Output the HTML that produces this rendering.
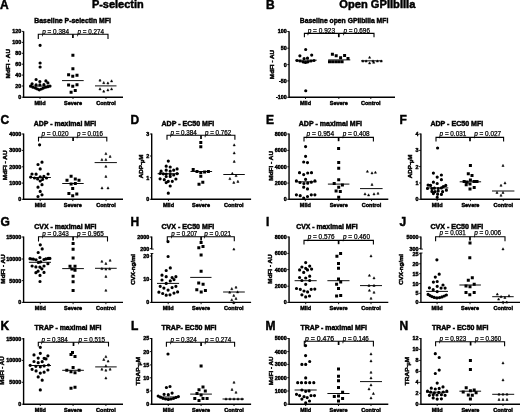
<!DOCTYPE html>
<html><head><meta charset="utf-8"><style>
html,body{margin:0;padding:0;background:#fff;width:520px;height:412px;overflow:hidden}
svg{display:block;filter:blur(0.3px)}
text{font-family:"Liberation Sans", sans-serif;fill:#000}
.b{stroke:#000;stroke-width:0.45px}
.p{stroke:#000;stroke-width:0.25px}
</style></head><body>
<svg width="520" height="412" viewBox="0 0 520 412">
<text x="0" y="8.5" font-size="12" font-weight="bold" class="b">A</text>
<text x="91.9" y="8.1" font-size="10.8" font-weight="bold" class="b" textLength="51.85" lengthAdjust="spacingAndGlyphs">P-selectin</text>
<text x="34.3" y="23.2" font-size="6.9" font-weight="bold" class="b" textLength="76.7" lengthAdjust="spacingAndGlyphs">Baseline P-selectin MFI</text>
<path d="M23.6 31.2V97.2H123" fill="none" stroke="#000" stroke-width="1.4"/>
<path d="M21.8 31.4H23.6M21.8 42.4H23.6M21.8 53.3H23.6M21.8 64.2H23.6M21.8 75.1H23.6M21.8 86H23.6M21.8 97.2H23.6" stroke="#000" stroke-width="0.9"/>
<text x="21.25" y="33.35" font-size="5.4" font-weight="bold" class="b" text-anchor="end">120</text>
<text x="21.25" y="44.35" font-size="5.4" font-weight="bold" class="b" text-anchor="end">100</text>
<text x="21.25" y="55.25" font-size="5.4" font-weight="bold" class="b" text-anchor="end">80</text>
<text x="21.25" y="66.15" font-size="5.4" font-weight="bold" class="b" text-anchor="end">60</text>
<text x="21.25" y="77.05" font-size="5.4" font-weight="bold" class="b" text-anchor="end">40</text>
<text x="21.25" y="87.95" font-size="5.4" font-weight="bold" class="b" text-anchor="end">20</text>
<text x="21.25" y="99.15" font-size="5.4" font-weight="bold" class="b" text-anchor="end">0</text>
<path d="M40 97.2V99M73 97.2V99M106 97.2V99" stroke="#000" stroke-width="0.9"/>
<text x="40" y="104.9" font-size="5.5" font-weight="bold" class="b" text-anchor="middle">Mild</text>
<text x="73" y="104.9" font-size="5.5" font-weight="bold" class="b" text-anchor="middle">Severe</text>
<text x="106" y="104.9" font-size="5.5" font-weight="bold" class="b" text-anchor="middle">Control</text>
<text transform="translate(9.65 63.7) rotate(-90)" font-size="6.0" font-weight="bold" class="b" text-anchor="middle" textLength="29.4" lengthAdjust="spacingAndGlyphs">MdFI - AU</text>
<path d="M38.3 38.9V34.2H108V38.9" fill="none" stroke="#000" stroke-width="1.1"/>
<path d="M72.9 34.2V38" stroke="#000" stroke-width="1.7"/>
<text class="p" x="42.3" y="33.5" font-size="6.6" textLength="26.8" lengthAdjust="spacingAndGlyphs"><tspan font-style="italic">p</tspan> = 0.384</text>
<text class="p" x="77.6" y="33.5" font-size="6.6" textLength="26.4" lengthAdjust="spacingAndGlyphs"><tspan font-style="italic">p</tspan> = 0.274</text>
<path d="M29.2 86.1H50.8M62 80.6H83.7M95 85.9H116.5" stroke="#000" stroke-width="0.95"/>
<path d="M38.5 45.3a1.6 1.6 0 1 0 3.2 0a1.6 1.6 0 1 0 -3.2 0M38.5 63a1.6 1.6 0 1 0 3.2 0a1.6 1.6 0 1 0 -3.2 0M38.5 67a1.6 1.6 0 1 0 3.2 0a1.6 1.6 0 1 0 -3.2 0M34.5 79.5a1.6 1.6 0 1 0 3.2 0a1.6 1.6 0 1 0 -3.2 0M38.25 81.5a1.6 1.6 0 1 0 3.2 0a1.6 1.6 0 1 0 -3.2 0M44.3 80.9a1.6 1.6 0 1 0 3.2 0a1.6 1.6 0 1 0 -3.2 0M46.3 82.9a1.6 1.6 0 1 0 3.2 0a1.6 1.6 0 1 0 -3.2 0M30.5 83.8a1.6 1.6 0 1 0 3.2 0a1.6 1.6 0 1 0 -3.2 0M34.5 84.9a1.6 1.6 0 1 0 3.2 0a1.6 1.6 0 1 0 -3.2 0M38.25 84.9a1.6 1.6 0 1 0 3.2 0a1.6 1.6 0 1 0 -3.2 0M42.3 84.7a1.6 1.6 0 1 0 3.2 0a1.6 1.6 0 1 0 -3.2 0M29 86.2a1.6 1.6 0 1 0 3.2 0a1.6 1.6 0 1 0 -3.2 0M31.3 87.25a1.6 1.6 0 1 0 3.2 0a1.6 1.6 0 1 0 -3.2 0M33.9 88.1a1.6 1.6 0 1 0 3.2 0a1.6 1.6 0 1 0 -3.2 0M35.9 89a1.6 1.6 0 1 0 3.2 0a1.6 1.6 0 1 0 -3.2 0M37.7 89.8a1.6 1.6 0 1 0 3.2 0a1.6 1.6 0 1 0 -3.2 0M39.7 89a1.6 1.6 0 1 0 3.2 0a1.6 1.6 0 1 0 -3.2 0M41.7 88.1a1.6 1.6 0 1 0 3.2 0a1.6 1.6 0 1 0 -3.2 0M44 87.25a1.6 1.6 0 1 0 3.2 0a1.6 1.6 0 1 0 -3.2 0M46.3 86.7a1.6 1.6 0 1 0 3.2 0a1.6 1.6 0 1 0 -3.2 0M48.4 86.1a1.6 1.6 0 1 0 3.2 0a1.6 1.6 0 1 0 -3.2 0"/>
<path d="M71.4 53.7h3.0v3.0h-3.0zM71.4 67.3h3.0v3.0h-3.0zM67.1 73.25h3.0v3.0h-3.0zM71.25 74.75h3.0v3.0h-3.0zM75.5 73.75h3.0v3.0h-3.0zM67.1 83.5h3.0v3.0h-3.0zM71.25 84.75h3.0v3.0h-3.0zM75.5 83.25h3.0v3.0h-3.0zM69.6 90.75h3.0v3.0h-3.0zM73.75 89.1h3.0v3.0h-3.0z"/>
<path d="M100 79L101.1 81.15H98.9zM103.75 81.5L104.85 83.65H102.65zM107.9 81.85L109 84H106.8zM111.6 79.75L112.7 81.9H110.5zM100 87.75L101.1 89.9H98.9zM103.75 90L104.85 92.15H102.65zM107.9 88.75L109 90.9H106.8zM111.6 87.75L112.7 89.9H110.5z" stroke="#000" stroke-width="0.5" stroke-linejoin="round"/>
<text x="266" y="8.6" font-size="12" font-weight="bold" class="b">B</text>
<text x="339.3" y="7.9" font-size="10.8" font-weight="bold" class="b" textLength="76.1" lengthAdjust="spacingAndGlyphs">Open GPIIbIIIa</text>
<text x="299.8" y="23.3" font-size="6.9" font-weight="bold" class="b" textLength="88.5" lengthAdjust="spacingAndGlyphs">Baseline open GPIIbIIIa MFI</text>
<path d="M289.05 31.2V97.2H395" fill="none" stroke="#000" stroke-width="1.4"/>
<path d="M287.25 31.5H289.05M287.25 48.2H289.05M287.25 64.6H289.05M287.25 80.9H289.05M287.25 97.3H289.05" stroke="#000" stroke-width="0.9"/>
<text x="286.7" y="33.45" font-size="5.4" font-weight="bold" class="b" text-anchor="end">100</text>
<text x="286.7" y="50.15" font-size="5.4" font-weight="bold" class="b" text-anchor="end">50</text>
<text x="286.7" y="66.55" font-size="5.4" font-weight="bold" class="b" text-anchor="end">0</text>
<text x="286.7" y="82.85" font-size="5.4" font-weight="bold" class="b" text-anchor="end">-50</text>
<text x="286.7" y="99.25" font-size="5.4" font-weight="bold" class="b" text-anchor="end">-100</text>
<path d="M305.5 97.2V99M338.8 97.2V99M370.8 97.2V99" stroke="#000" stroke-width="0.9"/>
<text x="305.5" y="104.9" font-size="5.5" font-weight="bold" class="b" text-anchor="middle">Mild</text>
<text x="338.8" y="104.9" font-size="5.5" font-weight="bold" class="b" text-anchor="middle">Severe</text>
<text x="370.8" y="104.9" font-size="5.5" font-weight="bold" class="b" text-anchor="middle">Control</text>
<text transform="translate(273.85 64.5) rotate(-90)" font-size="6.0" font-weight="bold" class="b" text-anchor="middle" textLength="29.3" lengthAdjust="spacingAndGlyphs">MdFI - AU</text>
<path d="M304.4 37.3V33.4H374V37.3" fill="none" stroke="#000" stroke-width="1.1"/>
<path d="M338.8 33.4V37.2" stroke="#000" stroke-width="1.7"/>
<text class="p" x="307.7" y="33.1" font-size="6.6" textLength="27.3" lengthAdjust="spacingAndGlyphs"><tspan font-style="italic">p</tspan> = 0.923</text>
<text class="p" x="343.4" y="33.1" font-size="6.6" textLength="26.5" lengthAdjust="spacingAndGlyphs"><tspan font-style="italic">p</tspan> = 0.696</text>
<path d="M295.3 60.2H316.7M328.2 59.9H350.3M361 60.8H382.5" stroke="#000" stroke-width="0.95"/>
<path d="M304.1 49.5a1.6 1.6 0 1 0 3.2 0a1.6 1.6 0 1 0 -3.2 0M298.3 55.8a1.6 1.6 0 1 0 3.2 0a1.6 1.6 0 1 0 -3.2 0M310.1 55.1a1.6 1.6 0 1 0 3.2 0a1.6 1.6 0 1 0 -3.2 0M302.5 58.6a1.6 1.6 0 1 0 3.2 0a1.6 1.6 0 1 0 -3.2 0M305.9 58.2a1.6 1.6 0 1 0 3.2 0a1.6 1.6 0 1 0 -3.2 0M295.4 60.5a1.6 1.6 0 1 0 3.2 0a1.6 1.6 0 1 0 -3.2 0M298.4 61a1.6 1.6 0 1 0 3.2 0a1.6 1.6 0 1 0 -3.2 0M301.4 61.8a1.6 1.6 0 1 0 3.2 0a1.6 1.6 0 1 0 -3.2 0M303.9 62.4a1.6 1.6 0 1 0 3.2 0a1.6 1.6 0 1 0 -3.2 0M306.4 61.8a1.6 1.6 0 1 0 3.2 0a1.6 1.6 0 1 0 -3.2 0M309.4 61a1.6 1.6 0 1 0 3.2 0a1.6 1.6 0 1 0 -3.2 0M312.4 60.5a1.6 1.6 0 1 0 3.2 0a1.6 1.6 0 1 0 -3.2 0M304.15 90.75a1.6 1.6 0 1 0 3.2 0a1.6 1.6 0 1 0 -3.2 0"/>
<path d="M330.9 52.7h3.0v3.0h-3.0zM334.7 54.3h3.0v3.0h-3.0zM343.1 54h3.0v3.0h-3.0zM339.1 56.2h3.0v3.0h-3.0zM346.5 57.1h3.0v3.0h-3.0zM328 60.3h3.0v3.0h-3.0zM331.1 60.3h3.0v3.0h-3.0zM334.3 60.3h3.0v3.0h-3.0zM337.4 60.3h3.0v3.0h-3.0zM340.6 60.3h3.0v3.0h-3.0z"/>
<path d="M369.6 56.15L370.7 58.3H368.5zM362.9 59.85L364 62H361.8zM366.1 59.85L367.2 62H365zM373 59.85L374.1 62H371.9zM377.4 59.85L378.5 62H376.3zM381.2 59.85L382.3 62H380.1zM369.6 61.75L370.7 63.9H368.5zM373.7 61.15L374.8 63.3H372.6z" stroke="#000" stroke-width="0.5" stroke-linejoin="round"/>
<text x="0.6" y="123.8" font-size="12" font-weight="bold" class="b">C</text>
<text x="33.8" y="125.5" font-size="6.9" font-weight="bold" class="b" textLength="62.4" lengthAdjust="spacingAndGlyphs">ADP - maximal MFI</text>
<path d="M23.6 133.5V199.3H123" fill="none" stroke="#000" stroke-width="1.4"/>
<path d="M21.8 134H23.6M21.8 150.4H23.6M21.8 166.8H23.6M21.8 183.1H23.6M21.8 199.3H23.6" stroke="#000" stroke-width="0.9"/>
<text x="21.25" y="135.95" font-size="5.4" font-weight="bold" class="b" text-anchor="end">4000</text>
<text x="21.25" y="152.35" font-size="5.4" font-weight="bold" class="b" text-anchor="end">3000</text>
<text x="21.25" y="168.75" font-size="5.4" font-weight="bold" class="b" text-anchor="end">2000</text>
<text x="21.25" y="185.05" font-size="5.4" font-weight="bold" class="b" text-anchor="end">1000</text>
<text x="21.25" y="201.25" font-size="5.4" font-weight="bold" class="b" text-anchor="end">0</text>
<path d="M40.2 199.3V201.1M72.8 199.3V201.1M106 199.3V201.1" stroke="#000" stroke-width="0.9"/>
<text x="40.2" y="207" font-size="5.5" font-weight="bold" class="b" text-anchor="middle">Mild</text>
<text x="72.8" y="207" font-size="5.5" font-weight="bold" class="b" text-anchor="middle">Severe</text>
<text x="106" y="207" font-size="5.5" font-weight="bold" class="b" text-anchor="middle">Control</text>
<text transform="translate(6.95 165.3) rotate(-90)" font-size="6.0" font-weight="bold" class="b" text-anchor="middle" textLength="29.9" lengthAdjust="spacingAndGlyphs">MdFI - AU</text>
<path d="M38.5 141.6V137.3H106.8V141.6" fill="none" stroke="#000" stroke-width="1.1"/>
<path d="M73.1 137.3V141.1" stroke="#000" stroke-width="1.7"/>
<text class="p" x="41.5" y="136.3" font-size="6.6" textLength="27" lengthAdjust="spacingAndGlyphs"><tspan font-style="italic">p</tspan> = 0.020</text>
<text class="p" x="77" y="136.3" font-size="6.6" textLength="26" lengthAdjust="spacingAndGlyphs"><tspan font-style="italic">p</tspan> = 0.016</text>
<path d="M29.4 177.5H50.9M62.2 183.5H83.7M94.6 162.6H116.9" stroke="#000" stroke-width="0.95"/>
<path d="M38 144.8a1.6 1.6 0 1 0 3.2 0a1.6 1.6 0 1 0 -3.2 0M40.4 162.2a1.6 1.6 0 1 0 3.2 0a1.6 1.6 0 1 0 -3.2 0M36.4 164.5a1.6 1.6 0 1 0 3.2 0a1.6 1.6 0 1 0 -3.2 0M38.6 168.9a1.6 1.6 0 1 0 3.2 0a1.6 1.6 0 1 0 -3.2 0M30.4 174a1.6 1.6 0 1 0 3.2 0a1.6 1.6 0 1 0 -3.2 0M34.5 174.2a1.6 1.6 0 1 0 3.2 0a1.6 1.6 0 1 0 -3.2 0M46.5 174a1.6 1.6 0 1 0 3.2 0a1.6 1.6 0 1 0 -3.2 0M38.6 176.8a1.6 1.6 0 1 0 3.2 0a1.6 1.6 0 1 0 -3.2 0M42.3 176.3a1.6 1.6 0 1 0 3.2 0a1.6 1.6 0 1 0 -3.2 0M29.1 177.1a1.6 1.6 0 1 0 3.2 0a1.6 1.6 0 1 0 -3.2 0M36 179a1.6 1.6 0 1 0 3.2 0a1.6 1.6 0 1 0 -3.2 0M38.6 181a1.6 1.6 0 1 0 3.2 0a1.6 1.6 0 1 0 -3.2 0M41.1 179.3a1.6 1.6 0 1 0 3.2 0a1.6 1.6 0 1 0 -3.2 0M44.9 178a1.6 1.6 0 1 0 3.2 0a1.6 1.6 0 1 0 -3.2 0M32.9 178a1.6 1.6 0 1 0 3.2 0a1.6 1.6 0 1 0 -3.2 0M40.4 184.7a1.6 1.6 0 1 0 3.2 0a1.6 1.6 0 1 0 -3.2 0M36.4 187.2a1.6 1.6 0 1 0 3.2 0a1.6 1.6 0 1 0 -3.2 0M38.6 191.4a1.6 1.6 0 1 0 3.2 0a1.6 1.6 0 1 0 -3.2 0M40.4 194.8a1.6 1.6 0 1 0 3.2 0a1.6 1.6 0 1 0 -3.2 0M36.4 196.5a1.6 1.6 0 1 0 3.2 0a1.6 1.6 0 1 0 -3.2 0"/>
<path d="M69.6 174.8h3.0v3.0h-3.0zM65.5 178.8h3.0v3.0h-3.0zM73.8 177.5h3.0v3.0h-3.0zM77.5 178.8h3.0v3.0h-3.0zM69.6 182.6h3.0v3.0h-3.0zM73.8 182h3.0v3.0h-3.0zM71.2 187h3.0v3.0h-3.0zM67.4 192.1h3.0v3.0h-3.0zM75.3 192.4h3.0v3.0h-3.0zM71.2 194.2h3.0v3.0h-3.0z"/>
<path d="M105.9 152.45L107 154.6H104.8zM110.1 155.25L111.2 157.4H109zM101.9 158.45L103 160.6H100.8zM105.9 158.45L107 160.6H104.8zM105.9 165.15L107 167.3H104.8zM105.9 175.25L107 177.4H104.8zM102 186.75L103.1 188.9H100.9zM108 186.75L109.1 188.9H106.9z" stroke="#000" stroke-width="0.5" stroke-linejoin="round"/>
<text x="130.5" y="124.2" font-size="12" font-weight="bold" class="b">D</text>
<text x="161.5" y="125.5" font-size="6.9" font-weight="bold" class="b" textLength="52.7" lengthAdjust="spacingAndGlyphs">ADP - EC50 MFI</text>
<path d="M151.7 133.5V199.3H251.1" fill="none" stroke="#000" stroke-width="1.4"/>
<path d="M149.9 134H151.7M149.9 156H151.7M149.9 177.7H151.7M149.9 199.3H151.7" stroke="#000" stroke-width="0.9"/>
<text x="149.35" y="135.95" font-size="5.4" font-weight="bold" class="b" text-anchor="end">3</text>
<text x="149.35" y="157.95" font-size="5.4" font-weight="bold" class="b" text-anchor="end">2</text>
<text x="149.35" y="179.65" font-size="5.4" font-weight="bold" class="b" text-anchor="end">1</text>
<text x="149.35" y="201.25" font-size="5.4" font-weight="bold" class="b" text-anchor="end">0</text>
<path d="M168.5 199.3V201.1M201 199.3V201.1M233.8 199.3V201.1" stroke="#000" stroke-width="0.9"/>
<text x="168.5" y="207" font-size="5.5" font-weight="bold" class="b" text-anchor="middle">Mild</text>
<text x="201" y="207" font-size="5.5" font-weight="bold" class="b" text-anchor="middle">Severe</text>
<text x="233.8" y="207" font-size="5.5" font-weight="bold" class="b" text-anchor="middle">Control</text>
<text transform="translate(142.85 166.4) rotate(-90)" font-size="6.0" font-weight="bold" class="b" text-anchor="middle" textLength="23.5" lengthAdjust="spacingAndGlyphs">ADP-<tspan font-size="4.80" dy="1.1">μ</tspan><tspan dy="-1.1">M</tspan></text>
<path d="M167 139.7V135.2H234.9V139.7" fill="none" stroke="#000" stroke-width="1.1"/>
<path d="M201 135.2V139" stroke="#000" stroke-width="1.7"/>
<text class="p" x="170.4" y="134.7" font-size="6.6" textLength="26.4" lengthAdjust="spacingAndGlyphs"><tspan font-style="italic">p</tspan> = 0.384</text>
<text class="p" x="205" y="134.7" font-size="6.6" textLength="26.2" lengthAdjust="spacingAndGlyphs"><tspan font-style="italic">p</tspan> = 0.762</text>
<path d="M157.6 173.7H179M190.5 171.5H212.1M223.3 174.5H244.8" stroke="#000" stroke-width="0.95"/>
<path d="M166.7 161.1a1.6 1.6 0 1 0 3.2 0a1.6 1.6 0 1 0 -3.2 0M164.6 166.2a1.6 1.6 0 1 0 3.2 0a1.6 1.6 0 1 0 -3.2 0M168.6 167a1.6 1.6 0 1 0 3.2 0a1.6 1.6 0 1 0 -3.2 0M175.5 168.9a1.6 1.6 0 1 0 3.2 0a1.6 1.6 0 1 0 -3.2 0M159.5 171.2a1.6 1.6 0 1 0 3.2 0a1.6 1.6 0 1 0 -3.2 0M164.6 170.2a1.6 1.6 0 1 0 3.2 0a1.6 1.6 0 1 0 -3.2 0M168.6 171.2a1.6 1.6 0 1 0 3.2 0a1.6 1.6 0 1 0 -3.2 0M172.1 170.2a1.6 1.6 0 1 0 3.2 0a1.6 1.6 0 1 0 -3.2 0M158.5 173.5a1.6 1.6 0 1 0 3.2 0a1.6 1.6 0 1 0 -3.2 0M161.7 173.8a1.6 1.6 0 1 0 3.2 0a1.6 1.6 0 1 0 -3.2 0M164.6 174a1.6 1.6 0 1 0 3.2 0a1.6 1.6 0 1 0 -3.2 0M168.6 174.6a1.6 1.6 0 1 0 3.2 0a1.6 1.6 0 1 0 -3.2 0M172.1 175a1.6 1.6 0 1 0 3.2 0a1.6 1.6 0 1 0 -3.2 0M175.5 173.7a1.6 1.6 0 1 0 3.2 0a1.6 1.6 0 1 0 -3.2 0M164.6 176.5a1.6 1.6 0 1 0 3.2 0a1.6 1.6 0 1 0 -3.2 0M168.6 176.5a1.6 1.6 0 1 0 3.2 0a1.6 1.6 0 1 0 -3.2 0M158.5 178.8a1.6 1.6 0 1 0 3.2 0a1.6 1.6 0 1 0 -3.2 0M162.7 179.7a1.6 1.6 0 1 0 3.2 0a1.6 1.6 0 1 0 -3.2 0M174.3 179a1.6 1.6 0 1 0 3.2 0a1.6 1.6 0 1 0 -3.2 0M164.6 182.6a1.6 1.6 0 1 0 3.2 0a1.6 1.6 0 1 0 -3.2 0M166.7 181.3a1.6 1.6 0 1 0 3.2 0a1.6 1.6 0 1 0 -3.2 0M170.7 181.3a1.6 1.6 0 1 0 3.2 0a1.6 1.6 0 1 0 -3.2 0M168.6 186a1.6 1.6 0 1 0 3.2 0a1.6 1.6 0 1 0 -3.2 0M166.7 193.2a1.6 1.6 0 1 0 3.2 0a1.6 1.6 0 1 0 -3.2 0"/>
<path d="M199.3 140.9h3.0v3.0h-3.0zM199.3 145.3h3.0v3.0h-3.0zM191.7 167.9h3.0v3.0h-3.0zM195.5 170.1h3.0v3.0h-3.0zM199.3 170.9h3.0v3.0h-3.0zM203.1 170.4h3.0v3.0h-3.0zM206.9 170.1h3.0v3.0h-3.0zM199.3 174.8h3.0v3.0h-3.0zM201.3 180.7h3.0v3.0h-3.0zM197.5 182.8h3.0v3.0h-3.0z"/>
<path d="M234.2 143.75L235.3 145.9H233.1zM234.2 151.75L235.3 153.9H233.1zM234.2 160.25L235.3 162.4H233.1zM232.3 172.25L233.4 174.4H231.2zM236.1 174.45L237.2 176.6H235zM229.9 177.45L231 179.6H228.8zM233.8 181.25L234.9 183.4H232.7zM237.9 180.25L239 182.4H236.8z" stroke="#000" stroke-width="0.5" stroke-linejoin="round"/>
<text x="266" y="124.2" font-size="12" font-weight="bold" class="b">E</text>
<text x="298.8" y="125.5" font-size="6.9" font-weight="bold" class="b" textLength="63.1" lengthAdjust="spacingAndGlyphs">ADP - maximal MFI</text>
<path d="M289.05 133.5V199.3H388.3" fill="none" stroke="#000" stroke-width="1.4"/>
<path d="M287.25 134H289.05M287.25 150.4H289.05M287.25 166.8H289.05M287.25 183.1H289.05M287.25 199.3H289.05" stroke="#000" stroke-width="0.9"/>
<text x="286.7" y="135.95" font-size="5.4" font-weight="bold" class="b" text-anchor="end">8000</text>
<text x="286.7" y="152.35" font-size="5.4" font-weight="bold" class="b" text-anchor="end">6000</text>
<text x="286.7" y="168.75" font-size="5.4" font-weight="bold" class="b" text-anchor="end">4000</text>
<text x="286.7" y="185.05" font-size="5.4" font-weight="bold" class="b" text-anchor="end">2000</text>
<text x="286.7" y="201.25" font-size="5.4" font-weight="bold" class="b" text-anchor="end">0</text>
<path d="M305.3 199.3V201.1M338.7 199.3V201.1M371.5 199.3V201.1" stroke="#000" stroke-width="0.9"/>
<text x="305.3" y="207" font-size="5.5" font-weight="bold" class="b" text-anchor="middle">Mild</text>
<text x="338.7" y="207" font-size="5.5" font-weight="bold" class="b" text-anchor="middle">Severe</text>
<text x="371.5" y="207" font-size="5.5" font-weight="bold" class="b" text-anchor="middle">Control</text>
<text transform="translate(272.55 165.8) rotate(-90)" font-size="6.0" font-weight="bold" class="b" text-anchor="middle" textLength="29.8" lengthAdjust="spacingAndGlyphs">MdFI - AU</text>
<path d="M304 141.5V137.4H373.4V141.5" fill="none" stroke="#000" stroke-width="1.1"/>
<path d="M338.6 137.4V141.2" stroke="#000" stroke-width="1.7"/>
<text class="p" x="306.5" y="136.3" font-size="6.6" textLength="27.7" lengthAdjust="spacingAndGlyphs"><tspan font-style="italic">p</tspan> = 0.954</text>
<text class="p" x="342.7" y="136.3" font-size="6.6" textLength="26.9" lengthAdjust="spacingAndGlyphs"><tspan font-style="italic">p</tspan> = 0.408</text>
<path d="M295.1 181.8H316.6M327.9 184.1H349.4M360 188.6H382.6" stroke="#000" stroke-width="0.95"/>
<path d="M304 146.6a1.6 1.6 0 1 0 3.2 0a1.6 1.6 0 1 0 -3.2 0M304 156.3a1.6 1.6 0 1 0 3.2 0a1.6 1.6 0 1 0 -3.2 0M302.1 162a1.6 1.6 0 1 0 3.2 0a1.6 1.6 0 1 0 -3.2 0M305.9 162.6a1.6 1.6 0 1 0 3.2 0a1.6 1.6 0 1 0 -3.2 0M297.9 172.7a1.6 1.6 0 1 0 3.2 0a1.6 1.6 0 1 0 -3.2 0M302.1 174.6a1.6 1.6 0 1 0 3.2 0a1.6 1.6 0 1 0 -3.2 0M306.1 173a1.6 1.6 0 1 0 3.2 0a1.6 1.6 0 1 0 -3.2 0M309.9 172.7a1.6 1.6 0 1 0 3.2 0a1.6 1.6 0 1 0 -3.2 0M304 179.3a1.6 1.6 0 1 0 3.2 0a1.6 1.6 0 1 0 -3.2 0M294.8 180.9a1.6 1.6 0 1 0 3.2 0a1.6 1.6 0 1 0 -3.2 0M298.4 182.5a1.6 1.6 0 1 0 3.2 0a1.6 1.6 0 1 0 -3.2 0M302.3 183.5a1.6 1.6 0 1 0 3.2 0a1.6 1.6 0 1 0 -3.2 0M306.1 183.2a1.6 1.6 0 1 0 3.2 0a1.6 1.6 0 1 0 -3.2 0M309.7 182.2a1.6 1.6 0 1 0 3.2 0a1.6 1.6 0 1 0 -3.2 0M313.3 180.9a1.6 1.6 0 1 0 3.2 0a1.6 1.6 0 1 0 -3.2 0M302.1 187.2a1.6 1.6 0 1 0 3.2 0a1.6 1.6 0 1 0 -3.2 0M305.9 188.9a1.6 1.6 0 1 0 3.2 0a1.6 1.6 0 1 0 -3.2 0M294.8 194.8a1.6 1.6 0 1 0 3.2 0a1.6 1.6 0 1 0 -3.2 0M298.6 195.7a1.6 1.6 0 1 0 3.2 0a1.6 1.6 0 1 0 -3.2 0M305.9 196.5a1.6 1.6 0 1 0 3.2 0a1.6 1.6 0 1 0 -3.2 0M309.7 194.8a1.6 1.6 0 1 0 3.2 0a1.6 1.6 0 1 0 -3.2 0M313.3 194.8a1.6 1.6 0 1 0 3.2 0a1.6 1.6 0 1 0 -3.2 0M302.1 198a1.6 1.6 0 1 0 3.2 0a1.6 1.6 0 1 0 -3.2 0"/>
<path d="M337.1 147.1h3.0v3.0h-3.0zM337.2 160.9h3.0v3.0h-3.0zM337.2 166.8h3.0v3.0h-3.0zM337.2 178.2h3.0v3.0h-3.0zM332.7 182h3.0v3.0h-3.0zM340.9 183.6h3.0v3.0h-3.0zM337.2 185.7h3.0v3.0h-3.0zM334.6 189.5h3.0v3.0h-3.0zM338.8 189.9h3.0v3.0h-3.0zM337.2 195.8h3.0v3.0h-3.0z"/>
<path d="M367.4 170.15L368.5 172.3H366.3zM372 171.75L373.1 173.9H370.9zM375.4 171.15L376.5 173.3H374.3zM372 183.35L373.1 185.5H370.9zM365 192.75L366.1 194.9H363.9zM368.6 193.75L369.7 195.9H367.5zM374 192.75L375.1 194.9H372.9zM378 192.15L379.1 194.3H376.9z" stroke="#000" stroke-width="0.5" stroke-linejoin="round"/>
<text x="399.5" y="124.2" font-size="12" font-weight="bold" class="b">F</text>
<text x="430.4" y="125.5" font-size="6.9" font-weight="bold" class="b" textLength="52.8" lengthAdjust="spacingAndGlyphs">ADP - EC50 MFI</text>
<path d="M420.9 133.5V199.3H520" fill="none" stroke="#000" stroke-width="1.4"/>
<path d="M419.1 134H420.9M419.1 150.4H420.9M419.1 166.6H420.9M419.1 183H420.9M419.1 199.3H420.9" stroke="#000" stroke-width="0.9"/>
<text x="418.55" y="135.95" font-size="5.4" font-weight="bold" class="b" text-anchor="end">4</text>
<text x="418.55" y="152.35" font-size="5.4" font-weight="bold" class="b" text-anchor="end">3</text>
<text x="418.55" y="168.55" font-size="5.4" font-weight="bold" class="b" text-anchor="end">2</text>
<text x="418.55" y="184.95" font-size="5.4" font-weight="bold" class="b" text-anchor="end">1</text>
<text x="418.55" y="201.25" font-size="5.4" font-weight="bold" class="b" text-anchor="end">0</text>
<path d="M437.2 199.3V201.1M470.4 199.3V201.1M503.3 199.3V201.1" stroke="#000" stroke-width="0.9"/>
<text x="437.2" y="207" font-size="5.5" font-weight="bold" class="b" text-anchor="middle">Mild</text>
<text x="470.4" y="207" font-size="5.5" font-weight="bold" class="b" text-anchor="middle">Severe</text>
<text x="503.3" y="207" font-size="5.5" font-weight="bold" class="b" text-anchor="middle">Control</text>
<text transform="translate(412.35 166.4) rotate(-90)" font-size="6.0" font-weight="bold" class="b" text-anchor="middle" textLength="23.5" lengthAdjust="spacingAndGlyphs">ADP-<tspan font-size="4.80" dy="1.1">μ</tspan><tspan dy="-1.1">M</tspan></text>
<path d="M436 141.5V137.4H503.6V141.5" fill="none" stroke="#000" stroke-width="1.1"/>
<path d="M470 137.4V141.2" stroke="#000" stroke-width="1.7"/>
<text class="p" x="439.6" y="136.3" font-size="6.6" textLength="26.6" lengthAdjust="spacingAndGlyphs"><tspan font-style="italic">p</tspan> = 0.031</text>
<text class="p" x="474.2" y="136.3" font-size="6.6" textLength="27" lengthAdjust="spacingAndGlyphs"><tspan font-style="italic">p</tspan> = 0.027</text>
<path d="M426.2 187.9H448.3M459.7 181.8H481.1M492 191H514.4" stroke="#000" stroke-width="0.95"/>
<path d="M436 148a1.6 1.6 0 1 0 3.2 0a1.6 1.6 0 1 0 -3.2 0M431.8 173.1a1.6 1.6 0 1 0 3.2 0a1.6 1.6 0 1 0 -3.2 0M435.6 177.1a1.6 1.6 0 1 0 3.2 0a1.6 1.6 0 1 0 -3.2 0M439.8 175a1.6 1.6 0 1 0 3.2 0a1.6 1.6 0 1 0 -3.2 0M439.8 179.7a1.6 1.6 0 1 0 3.2 0a1.6 1.6 0 1 0 -3.2 0M431.8 182.2a1.6 1.6 0 1 0 3.2 0a1.6 1.6 0 1 0 -3.2 0M435.6 183.5a1.6 1.6 0 1 0 3.2 0a1.6 1.6 0 1 0 -3.2 0M426.5 185.1a1.6 1.6 0 1 0 3.2 0a1.6 1.6 0 1 0 -3.2 0M429 185.4a1.6 1.6 0 1 0 3.2 0a1.6 1.6 0 1 0 -3.2 0M444.2 185.4a1.6 1.6 0 1 0 3.2 0a1.6 1.6 0 1 0 -3.2 0M441.7 186.6a1.6 1.6 0 1 0 3.2 0a1.6 1.6 0 1 0 -3.2 0M425.9 188.5a1.6 1.6 0 1 0 3.2 0a1.6 1.6 0 1 0 -3.2 0M430.3 188.5a1.6 1.6 0 1 0 3.2 0a1.6 1.6 0 1 0 -3.2 0M432.8 188.2a1.6 1.6 0 1 0 3.2 0a1.6 1.6 0 1 0 -3.2 0M436.6 188.5a1.6 1.6 0 1 0 3.2 0a1.6 1.6 0 1 0 -3.2 0M439.8 187.9a1.6 1.6 0 1 0 3.2 0a1.6 1.6 0 1 0 -3.2 0M444.8 190.2a1.6 1.6 0 1 0 3.2 0a1.6 1.6 0 1 0 -3.2 0M430.3 191.4a1.6 1.6 0 1 0 3.2 0a1.6 1.6 0 1 0 -3.2 0M433.4 191.7a1.6 1.6 0 1 0 3.2 0a1.6 1.6 0 1 0 -3.2 0M436.6 191a1.6 1.6 0 1 0 3.2 0a1.6 1.6 0 1 0 -3.2 0M441 191.7a1.6 1.6 0 1 0 3.2 0a1.6 1.6 0 1 0 -3.2 0M431.8 193.6a1.6 1.6 0 1 0 3.2 0a1.6 1.6 0 1 0 -3.2 0M436 194.2a1.6 1.6 0 1 0 3.2 0a1.6 1.6 0 1 0 -3.2 0M439.8 194.4a1.6 1.6 0 1 0 3.2 0a1.6 1.6 0 1 0 -3.2 0M435.6 197.3a1.6 1.6 0 1 0 3.2 0a1.6 1.6 0 1 0 -3.2 0"/>
<path d="M468.9 163.9h3.0v3.0h-3.0zM466.8 172.2h3.0v3.0h-3.0zM470.5 174h3.0v3.0h-3.0zM468.9 178.5h3.0v3.0h-3.0zM462.6 180.1h3.0v3.0h-3.0zM465.5 180.5h3.0v3.0h-3.0zM472.5 180.1h3.0v3.0h-3.0zM475.5 180.1h3.0v3.0h-3.0zM464.7 183.2h3.0v3.0h-3.0zM468.5 182.6h3.0v3.0h-3.0zM468.5 187.4h3.0v3.0h-3.0zM472.7 186.1h3.0v3.0h-3.0z"/>
<path d="M503 164.35L504.1 166.5H501.9zM505 181.75L506.1 183.9H503.9zM501 184.15L502.1 186.3H499.9zM497 191.35L498.1 193.5H495.9zM503 191.35L504.1 193.5H501.9zM501 194.15L502.1 196.3H499.9z" stroke="#000" stroke-width="0.5" stroke-linejoin="round"/>
<text x="0.6" y="226" font-size="12" font-weight="bold" class="b">G</text>
<text x="34.3" y="228.5" font-size="6.9" font-weight="bold" class="b" textLength="62.2" lengthAdjust="spacingAndGlyphs">CVX - maximal MFI</text>
<path d="M23.6 236.5V302.4H123" fill="none" stroke="#000" stroke-width="1.4"/>
<path d="M21.8 237H23.6M21.8 259H23.6M21.8 280.6H23.6M21.8 302.4H23.6" stroke="#000" stroke-width="0.9"/>
<text x="21.25" y="238.95" font-size="5.4" font-weight="bold" class="b" text-anchor="end">15000</text>
<text x="21.25" y="260.95" font-size="5.4" font-weight="bold" class="b" text-anchor="end">10000</text>
<text x="21.25" y="282.55" font-size="5.4" font-weight="bold" class="b" text-anchor="end">5000</text>
<text x="21.25" y="304.35" font-size="5.4" font-weight="bold" class="b" text-anchor="end">0</text>
<path d="M40.3 302.4V304.2M73.1 302.4V304.2M105.9 302.4V304.2" stroke="#000" stroke-width="0.9"/>
<text x="40.3" y="310.1" font-size="5.5" font-weight="bold" class="b" text-anchor="middle">Mild</text>
<text x="73.1" y="310.1" font-size="5.5" font-weight="bold" class="b" text-anchor="middle">Severe</text>
<text x="105.9" y="310.1" font-size="5.5" font-weight="bold" class="b" text-anchor="middle">Control</text>
<text transform="translate(4.85 269) rotate(-90)" font-size="6.0" font-weight="bold" class="b" text-anchor="middle" textLength="29.3" lengthAdjust="spacingAndGlyphs">MdFI - AU</text>
<path d="M38.5 241.5V236.8H107.5V241.5" fill="none" stroke="#000" stroke-width="1.1"/>
<path d="M73.1 236.8V240.6" stroke="#000" stroke-width="1.7"/>
<text class="p" x="42.3" y="235.7" font-size="6.6" textLength="26.5" lengthAdjust="spacingAndGlyphs"><tspan font-style="italic">p</tspan> = 0.343</text>
<text class="p" x="77" y="235.7" font-size="6.6" textLength="26.8" lengthAdjust="spacingAndGlyphs"><tspan font-style="italic">p</tspan> = 0.965</text>
<path d="M28.9 262.3H51M62.2 268.6H83.9M95 268.3H116.7" stroke="#000" stroke-width="0.95"/>
<path d="M38.7 244.8a1.6 1.6 0 1 0 3.2 0a1.6 1.6 0 1 0 -3.2 0M40.6 248.9a1.6 1.6 0 1 0 3.2 0a1.6 1.6 0 1 0 -3.2 0M36.6 252.5a1.6 1.6 0 1 0 3.2 0a1.6 1.6 0 1 0 -3.2 0M38.3 257.5a1.6 1.6 0 1 0 3.2 0a1.6 1.6 0 1 0 -3.2 0M28.4 258.7a1.6 1.6 0 1 0 3.2 0a1.6 1.6 0 1 0 -3.2 0M30.2 259a1.6 1.6 0 1 0 3.2 0a1.6 1.6 0 1 0 -3.2 0M31.8 259.2a1.6 1.6 0 1 0 3.2 0a1.6 1.6 0 1 0 -3.2 0M34.5 259.8a1.6 1.6 0 1 0 3.2 0a1.6 1.6 0 1 0 -3.2 0M42.3 259.5a1.6 1.6 0 1 0 3.2 0a1.6 1.6 0 1 0 -3.2 0M44.3 258.9a1.6 1.6 0 1 0 3.2 0a1.6 1.6 0 1 0 -3.2 0M46.6 258.4a1.6 1.6 0 1 0 3.2 0a1.6 1.6 0 1 0 -3.2 0M48.3 258.4a1.6 1.6 0 1 0 3.2 0a1.6 1.6 0 1 0 -3.2 0M36.8 262.4a1.6 1.6 0 1 0 3.2 0a1.6 1.6 0 1 0 -3.2 0M39.1 261.8a1.6 1.6 0 1 0 3.2 0a1.6 1.6 0 1 0 -3.2 0M46.3 263.7a1.6 1.6 0 1 0 3.2 0a1.6 1.6 0 1 0 -3.2 0M30.5 266a1.6 1.6 0 1 0 3.2 0a1.6 1.6 0 1 0 -3.2 0M34.3 266.9a1.6 1.6 0 1 0 3.2 0a1.6 1.6 0 1 0 -3.2 0M38.25 267.1a1.6 1.6 0 1 0 3.2 0a1.6 1.6 0 1 0 -3.2 0M42.4 266a1.6 1.6 0 1 0 3.2 0a1.6 1.6 0 1 0 -3.2 0M40.3 268.8a1.6 1.6 0 1 0 3.2 0a1.6 1.6 0 1 0 -3.2 0M36.5 271.2a1.6 1.6 0 1 0 3.2 0a1.6 1.6 0 1 0 -3.2 0M34.3 272.7a1.6 1.6 0 1 0 3.2 0a1.6 1.6 0 1 0 -3.2 0M42.4 272.4a1.6 1.6 0 1 0 3.2 0a1.6 1.6 0 1 0 -3.2 0M38.4 275.4a1.6 1.6 0 1 0 3.2 0a1.6 1.6 0 1 0 -3.2 0M38.4 281.5a1.6 1.6 0 1 0 3.2 0a1.6 1.6 0 1 0 -3.2 0"/>
<path d="M71.6 242.1h3.0v3.0h-3.0zM71.6 247.8h3.0v3.0h-3.0zM71.6 256.6h3.0v3.0h-3.0zM68.5 264.8h3.0v3.0h-3.0zM73.5 264.8h3.0v3.0h-3.0zM70.4 267.6h3.0v3.0h-3.0zM73.5 268.8h3.0v3.0h-3.0zM71.6 274.7h3.0v3.0h-3.0zM71.6 280.2h3.0v3.0h-3.0zM71.6 289.1h3.0v3.0h-3.0z"/>
<path d="M101.9 260.15L103 262.3H100.8zM105.9 262.35L107 264.5H104.8zM110.1 259.15L111.2 261.3H109zM101.9 267.45L103 269.6H100.8zM105.9 267.95L107 270.1H104.8zM109.7 267.65L110.8 269.8H108.6zM105.9 275.25L107 277.4H104.8zM105.9 289.15L107 291.3H104.8z" stroke="#000" stroke-width="0.5" stroke-linejoin="round"/>
<text x="130.5" y="226" font-size="12" font-weight="bold" class="b">H</text>
<text x="161.5" y="228.5" font-size="6.9" font-weight="bold" class="b" textLength="52.7" lengthAdjust="spacingAndGlyphs">CVX - EC50 MFI</text>
<path d="M151.7 236.5V249.1M151.7 253.5V302.4H251.1" fill="none" stroke="#000" stroke-width="1.4"/>
<path d="M150.9 249.1H153.7M150.5 253.5H153.3" stroke="#000" stroke-width="0.9"/>
<path d="M149.9 237H151.7M149.9 248.6H151.7M149.9 256H151.7M149.9 279.5H151.7M149.9 302.4H151.7" stroke="#000" stroke-width="0.9"/>
<text x="149.35" y="238.95" font-size="5.4" font-weight="bold" class="b" text-anchor="end">2000</text>
<text x="149.35" y="250.55" font-size="5.4" font-weight="bold" class="b" text-anchor="end">200</text>
<text x="149.35" y="257.95" font-size="5.4" font-weight="bold" class="b" text-anchor="end">20</text>
<text x="149.35" y="281.45" font-size="5.4" font-weight="bold" class="b" text-anchor="end">10</text>
<text x="149.35" y="304.35" font-size="5.4" font-weight="bold" class="b" text-anchor="end">0</text>
<path d="M168.2 302.4V304.2M201.1 302.4V304.2M233.8 302.4V304.2" stroke="#000" stroke-width="0.9"/>
<text x="168.2" y="310.1" font-size="5.5" font-weight="bold" class="b" text-anchor="middle">Mild</text>
<text x="201.1" y="310.1" font-size="5.5" font-weight="bold" class="b" text-anchor="middle">Severe</text>
<text x="233.8" y="310.1" font-size="5.5" font-weight="bold" class="b" text-anchor="middle">Control</text>
<text transform="translate(134.85 269.4) rotate(-90)" font-size="6.0" font-weight="bold" class="b" text-anchor="middle" textLength="30.9" lengthAdjust="spacingAndGlyphs">CVX-ng/ml</text>
<path d="M167.3 241.2V236.8H234.3V241.2" fill="none" stroke="#000" stroke-width="1.1"/>
<path d="M201.1 236.8V240.6" stroke="#000" stroke-width="1.7"/>
<text class="p" x="171.2" y="235.9" font-size="6.6" textLength="26.1" lengthAdjust="spacingAndGlyphs"><tspan font-style="italic">p</tspan> = 0.207</text>
<text class="p" x="204.2" y="235.9" font-size="6.6" textLength="27" lengthAdjust="spacingAndGlyphs"><tspan font-style="italic">p</tspan> = 0.021</text>
<path d="M157 283.4H179.1M190.2 277.4H211.5M223.1 292H244.8" stroke="#000" stroke-width="0.95"/>
<path d="M166.4 241.6a1.6 1.6 0 1 0 3.2 0a1.6 1.6 0 1 0 -3.2 0M166.5 256.5a1.6 1.6 0 1 0 3.2 0a1.6 1.6 0 1 0 -3.2 0M168.7 267.9a1.6 1.6 0 1 0 3.2 0a1.6 1.6 0 1 0 -3.2 0M164.6 270.5a1.6 1.6 0 1 0 3.2 0a1.6 1.6 0 1 0 -3.2 0M160.4 275.2a1.6 1.6 0 1 0 3.2 0a1.6 1.6 0 1 0 -3.2 0M164.6 276.7a1.6 1.6 0 1 0 3.2 0a1.6 1.6 0 1 0 -3.2 0M170.5 277.5a1.6 1.6 0 1 0 3.2 0a1.6 1.6 0 1 0 -3.2 0M174.3 276.7a1.6 1.6 0 1 0 3.2 0a1.6 1.6 0 1 0 -3.2 0M160.4 280a1.6 1.6 0 1 0 3.2 0a1.6 1.6 0 1 0 -3.2 0M168.7 280.9a1.6 1.6 0 1 0 3.2 0a1.6 1.6 0 1 0 -3.2 0M172.4 279.6a1.6 1.6 0 1 0 3.2 0a1.6 1.6 0 1 0 -3.2 0M164.6 283.4a1.6 1.6 0 1 0 3.2 0a1.6 1.6 0 1 0 -3.2 0M158.6 286.3a1.6 1.6 0 1 0 3.2 0a1.6 1.6 0 1 0 -3.2 0M162.3 288.1a1.6 1.6 0 1 0 3.2 0a1.6 1.6 0 1 0 -3.2 0M170.5 287.6a1.6 1.6 0 1 0 3.2 0a1.6 1.6 0 1 0 -3.2 0M174.3 286.3a1.6 1.6 0 1 0 3.2 0a1.6 1.6 0 1 0 -3.2 0M166.5 290.1a1.6 1.6 0 1 0 3.2 0a1.6 1.6 0 1 0 -3.2 0M157.3 292.2a1.6 1.6 0 1 0 3.2 0a1.6 1.6 0 1 0 -3.2 0M161.1 293.5a1.6 1.6 0 1 0 3.2 0a1.6 1.6 0 1 0 -3.2 0M172.4 293.1a1.6 1.6 0 1 0 3.2 0a1.6 1.6 0 1 0 -3.2 0M176 291.9a1.6 1.6 0 1 0 3.2 0a1.6 1.6 0 1 0 -3.2 0M164.6 295.2a1.6 1.6 0 1 0 3.2 0a1.6 1.6 0 1 0 -3.2 0M168.4 294.8a1.6 1.6 0 1 0 3.2 0a1.6 1.6 0 1 0 -3.2 0"/>
<path d="M199.6 241.1h3.0v3.0h-3.0zM197.3 246.2h3.0v3.0h-3.0zM201.5 244.9h3.0v3.0h-3.0zM199.6 253.5h3.0v3.0h-3.0zM199.6 269.7h3.0v3.0h-3.0zM197.2 281.5h3.0v3.0h-3.0zM201.6 282.8h3.0v3.0h-3.0zM195.3 288.2h3.0v3.0h-3.0zM199.7 290.4h3.0v3.0h-3.0zM203.9 289.1h3.0v3.0h-3.0z"/>
<path d="M233.9 247.95L235 250.1H232.8zM236 286.05L237.1 288.2H234.9zM231.8 287.55L232.9 289.7H230.7zM229.7 291.05L230.8 293.2H228.6zM237.6 290.75L238.7 292.9H236.5zM233.8 294.25L234.9 296.4H232.7zM231.8 298.65L232.9 300.8H230.7zM236 297.35L237.1 299.5H234.9zM233.8 301.35L234.9 303.5H232.7z" stroke="#000" stroke-width="0.5" stroke-linejoin="round"/>
<text x="266" y="226" font-size="12" font-weight="bold" class="b">I</text>
<text x="296.2" y="228.7" font-size="6.9" font-weight="bold" class="b" textLength="61.5" lengthAdjust="spacingAndGlyphs">CVX - maximal MFI</text>
<path d="M289.05 236.5V302.4H388.3" fill="none" stroke="#000" stroke-width="1.4"/>
<path d="M287.25 237H289.05M287.25 253.4H289.05M287.25 269.6H289.05M287.25 286.2H289.05M287.25 302.4H289.05" stroke="#000" stroke-width="0.9"/>
<text x="286.7" y="238.95" font-size="5.4" font-weight="bold" class="b" text-anchor="end">8000</text>
<text x="286.7" y="255.35" font-size="5.4" font-weight="bold" class="b" text-anchor="end">6000</text>
<text x="286.7" y="271.55" font-size="5.4" font-weight="bold" class="b" text-anchor="end">4000</text>
<text x="286.7" y="288.15" font-size="5.4" font-weight="bold" class="b" text-anchor="end">2000</text>
<text x="286.7" y="304.35" font-size="5.4" font-weight="bold" class="b" text-anchor="end">0</text>
<path d="M305.7 302.4V304.2M338.6 302.4V304.2M371 302.4V304.2" stroke="#000" stroke-width="0.9"/>
<text x="305.7" y="310.1" font-size="5.5" font-weight="bold" class="b" text-anchor="middle">Mild</text>
<text x="338.6" y="310.1" font-size="5.5" font-weight="bold" class="b" text-anchor="middle">Severe</text>
<text x="371" y="310.1" font-size="5.5" font-weight="bold" class="b" text-anchor="middle">Control</text>
<text transform="translate(272.45 269) rotate(-90)" font-size="6.0" font-weight="bold" class="b" text-anchor="middle" textLength="29.3" lengthAdjust="spacingAndGlyphs">MdFI - AU</text>
<path d="M304 244.5V240.4H373.4V244.5" fill="none" stroke="#000" stroke-width="1.1"/>
<path d="M338.6 240.4V244.2" stroke="#000" stroke-width="1.7"/>
<text class="p" x="307.7" y="239.3" font-size="6.6" textLength="26.9" lengthAdjust="spacingAndGlyphs"><tspan font-style="italic">p</tspan> = 0.576</text>
<text class="p" x="343" y="239.3" font-size="6.6" textLength="27" lengthAdjust="spacingAndGlyphs"><tspan font-style="italic">p</tspan> = 0.460</text>
<path d="M294.6 280.7H316.7M327.4 280.7H349.5M360 285.6H382" stroke="#000" stroke-width="0.95"/>
<path d="M304.1 262.6a1.6 1.6 0 1 0 3.2 0a1.6 1.6 0 1 0 -3.2 0M300.3 267a1.6 1.6 0 1 0 3.2 0a1.6 1.6 0 1 0 -3.2 0M308.1 266.1a1.6 1.6 0 1 0 3.2 0a1.6 1.6 0 1 0 -3.2 0M304.1 268.3a1.6 1.6 0 1 0 3.2 0a1.6 1.6 0 1 0 -3.2 0M298 269.9a1.6 1.6 0 1 0 3.2 0a1.6 1.6 0 1 0 -3.2 0M310 269.1a1.6 1.6 0 1 0 3.2 0a1.6 1.6 0 1 0 -3.2 0M302.1 272.4a1.6 1.6 0 1 0 3.2 0a1.6 1.6 0 1 0 -3.2 0M305.9 269.9a1.6 1.6 0 1 0 3.2 0a1.6 1.6 0 1 0 -3.2 0M298 277.5a1.6 1.6 0 1 0 3.2 0a1.6 1.6 0 1 0 -3.2 0M304.1 278a1.6 1.6 0 1 0 3.2 0a1.6 1.6 0 1 0 -3.2 0M308.1 276.2a1.6 1.6 0 1 0 3.2 0a1.6 1.6 0 1 0 -3.2 0M300.3 280.5a1.6 1.6 0 1 0 3.2 0a1.6 1.6 0 1 0 -3.2 0M308.1 280.5a1.6 1.6 0 1 0 3.2 0a1.6 1.6 0 1 0 -3.2 0M304.1 284.3a1.6 1.6 0 1 0 3.2 0a1.6 1.6 0 1 0 -3.2 0M294.9 288.5a1.6 1.6 0 1 0 3.2 0a1.6 1.6 0 1 0 -3.2 0M298.7 289.3a1.6 1.6 0 1 0 3.2 0a1.6 1.6 0 1 0 -3.2 0M302.4 291a1.6 1.6 0 1 0 3.2 0a1.6 1.6 0 1 0 -3.2 0M306 291.9a1.6 1.6 0 1 0 3.2 0a1.6 1.6 0 1 0 -3.2 0M309.6 289.3a1.6 1.6 0 1 0 3.2 0a1.6 1.6 0 1 0 -3.2 0M313.2 289.1a1.6 1.6 0 1 0 3.2 0a1.6 1.6 0 1 0 -3.2 0M300.3 294.8a1.6 1.6 0 1 0 3.2 0a1.6 1.6 0 1 0 -3.2 0M307.9 296a1.6 1.6 0 1 0 3.2 0a1.6 1.6 0 1 0 -3.2 0M304.1 296.9a1.6 1.6 0 1 0 3.2 0a1.6 1.6 0 1 0 -3.2 0"/>
<path d="M339.1 251.9h3.0v3.0h-3.0zM335.4 254.8h3.0v3.0h-3.0zM337 262.1h3.0v3.0h-3.0zM337 266.8h3.0v3.0h-3.0zM337 277.5h3.0v3.0h-3.0zM339.2 280.6h3.0v3.0h-3.0zM335.1 282.8h3.0v3.0h-3.0zM337 287h3.0v3.0h-3.0zM335.1 294.5h3.0v3.0h-3.0zM339.2 293.9h3.0v3.0h-3.0z"/>
<path d="M371 254.75L372.1 256.9H369.9zM369.4 274.15L370.5 276.3H368.3zM374 276.75L375.1 278.9H372.9zM369 284.35L370.1 286.5H367.9zM374 284.35L375.1 286.5H372.9zM369.4 289.15L370.5 291.3H368.3zM374 291.15L375.1 293.3H372.9zM371 297.15L372.1 299.3H369.9z" stroke="#000" stroke-width="0.5" stroke-linejoin="round"/>
<text x="399.5" y="226" font-size="12" font-weight="bold" class="b">J</text>
<text x="430.4" y="228.5" font-size="6.9" font-weight="bold" class="b" textLength="52.8" lengthAdjust="spacingAndGlyphs">CVX - EC50 MFI</text>
<path d="M420.9 236.5V249.1M420.9 253V302.4H520" fill="none" stroke="#000" stroke-width="1.4"/>
<path d="M420.1 249.1H422.9M419.7 253H422.5" stroke="#000" stroke-width="0.9"/>
<path d="M419.1 237H420.9M419.1 248.6H420.9M419.1 253.7H420.9M419.1 263.8H420.9M419.1 273.7H420.9M419.1 283.6H420.9M419.1 293.3H420.9M419.1 302.4H420.9" stroke="#000" stroke-width="0.9"/>
<text x="418.55" y="238.95" font-size="5.4" font-weight="bold" class="b" text-anchor="end">5000</text>
<text x="418.55" y="250.55" font-size="5.4" font-weight="bold" class="b" text-anchor="end">300</text>
<text x="418.55" y="255.65" font-size="5.4" font-weight="bold" class="b" text-anchor="end">25</text>
<text x="418.55" y="265.75" font-size="5.4" font-weight="bold" class="b" text-anchor="end">20</text>
<text x="418.55" y="275.65" font-size="5.4" font-weight="bold" class="b" text-anchor="end">15</text>
<text x="418.55" y="285.55" font-size="5.4" font-weight="bold" class="b" text-anchor="end">10</text>
<text x="418.55" y="295.25" font-size="5.4" font-weight="bold" class="b" text-anchor="end">5</text>
<text x="418.55" y="304.35" font-size="5.4" font-weight="bold" class="b" text-anchor="end">0</text>
<path d="M437.1 302.4V304.2M470 302.4V304.2M503.2 302.4V304.2" stroke="#000" stroke-width="0.9"/>
<text x="437.1" y="310.1" font-size="5.5" font-weight="bold" class="b" text-anchor="middle">Mild</text>
<text x="470" y="310.1" font-size="5.5" font-weight="bold" class="b" text-anchor="middle">Severe</text>
<text x="503.2" y="310.1" font-size="5.5" font-weight="bold" class="b" text-anchor="middle">Control</text>
<text transform="translate(403.45 269.4) rotate(-90)" font-size="6.0" font-weight="bold" class="b" text-anchor="middle" textLength="30.9" lengthAdjust="spacingAndGlyphs">CVX-ng/ml</text>
<path d="M435.6 241.2V236.8H505V241.2" fill="none" stroke="#000" stroke-width="1.1"/>
<path d="M470 236.8V240.6" stroke="#000" stroke-width="1.7"/>
<text class="p" x="439.6" y="235.4" font-size="6.6" textLength="26.2" lengthAdjust="spacingAndGlyphs"><tspan font-style="italic">p</tspan> = 0.031</text>
<text class="p" x="474.2" y="235.4" font-size="6.6" textLength="27" lengthAdjust="spacingAndGlyphs"><tspan font-style="italic">p</tspan> = 0.006</text>
<path d="M426.2 291.4H448M459.4 285H480.9M492.2 296.7H513.7" stroke="#000" stroke-width="0.95"/>
<path d="M435.3 259.8a1.6 1.6 0 1 0 3.2 0a1.6 1.6 0 1 0 -3.2 0M437.6 274.2a1.6 1.6 0 1 0 3.2 0a1.6 1.6 0 1 0 -3.2 0M433.7 277.1a1.6 1.6 0 1 0 3.2 0a1.6 1.6 0 1 0 -3.2 0M431.8 282.1a1.6 1.6 0 1 0 3.2 0a1.6 1.6 0 1 0 -3.2 0M435.6 281.5a1.6 1.6 0 1 0 3.2 0a1.6 1.6 0 1 0 -3.2 0M435.6 286.3a1.6 1.6 0 1 0 3.2 0a1.6 1.6 0 1 0 -3.2 0M441.4 285a1.6 1.6 0 1 0 3.2 0a1.6 1.6 0 1 0 -3.2 0M427.8 287.8a1.6 1.6 0 1 0 3.2 0a1.6 1.6 0 1 0 -3.2 0M431.6 289.7a1.6 1.6 0 1 0 3.2 0a1.6 1.6 0 1 0 -3.2 0M439.5 288.1a1.6 1.6 0 1 0 3.2 0a1.6 1.6 0 1 0 -3.2 0M443.5 288.1a1.6 1.6 0 1 0 3.2 0a1.6 1.6 0 1 0 -3.2 0M435.6 291.6a1.6 1.6 0 1 0 3.2 0a1.6 1.6 0 1 0 -3.2 0M426.5 294.4a1.6 1.6 0 1 0 3.2 0a1.6 1.6 0 1 0 -3.2 0M428.4 295.6a1.6 1.6 0 1 0 3.2 0a1.6 1.6 0 1 0 -3.2 0M430.4 296.6a1.6 1.6 0 1 0 3.2 0a1.6 1.6 0 1 0 -3.2 0M432.6 297.4a1.6 1.6 0 1 0 3.2 0a1.6 1.6 0 1 0 -3.2 0M435.3 297.9a1.6 1.6 0 1 0 3.2 0a1.6 1.6 0 1 0 -3.2 0M438 297.6a1.6 1.6 0 1 0 3.2 0a1.6 1.6 0 1 0 -3.2 0M440.4 296.9a1.6 1.6 0 1 0 3.2 0a1.6 1.6 0 1 0 -3.2 0M442.7 296a1.6 1.6 0 1 0 3.2 0a1.6 1.6 0 1 0 -3.2 0M444.8 295a1.6 1.6 0 1 0 3.2 0a1.6 1.6 0 1 0 -3.2 0"/>
<path d="M468.5 241.5h3.0v3.0h-3.0zM468.3 256.3h3.0v3.0h-3.0zM470.8 276.2h3.0v3.0h-3.0zM466.8 278.8h3.0v3.0h-3.0zM472.7 282.8h3.0v3.0h-3.0zM464.5 284.4h3.0v3.0h-3.0zM468.5 285.3h3.0v3.0h-3.0zM464.5 291.1h3.0v3.0h-3.0zM472.7 291.1h3.0v3.0h-3.0zM468.3 293.3h3.0v3.0h-3.0z"/>
<path d="M503 247.75L504.1 249.9H501.9zM497.3 292.95L498.4 295.1H496.2zM501.1 295.45L502.2 297.6H500zM504.9 296.35L506 298.5H503.8zM509 294.55L510.1 296.7H507.9zM498.6 297.95L499.7 300.1H497.5zM503 300.95L504.1 303.1H501.9zM506.8 300.95L507.9 303.1H505.7z" stroke="#000" stroke-width="0.5" stroke-linejoin="round"/>
<text x="0.5" y="329.6" font-size="12" font-weight="bold" class="b">K</text>
<text x="34.6" y="330.2" font-size="6.9" font-weight="bold" class="b" textLength="66.9" lengthAdjust="spacingAndGlyphs">TRAP - maximal MFI</text>
<path d="M23.6 338V404.2H123" fill="none" stroke="#000" stroke-width="1.4"/>
<path d="M21.8 338.8H23.6M21.8 360.4H23.6M21.8 382.3H23.6M21.8 404.2H23.6" stroke="#000" stroke-width="0.9"/>
<text x="21.25" y="340.75" font-size="5.4" font-weight="bold" class="b" text-anchor="end">15000</text>
<text x="21.25" y="362.35" font-size="5.4" font-weight="bold" class="b" text-anchor="end">10000</text>
<text x="21.25" y="384.25" font-size="5.4" font-weight="bold" class="b" text-anchor="end">5000</text>
<text x="21.25" y="406.15" font-size="5.4" font-weight="bold" class="b" text-anchor="end">0</text>
<path d="M40.3 404.2V406M73.1 404.2V406M105.9 404.2V406" stroke="#000" stroke-width="0.9"/>
<text x="40.3" y="411.9" font-size="5.5" font-weight="bold" class="b" text-anchor="middle">Mild</text>
<text x="73.1" y="411.9" font-size="5.5" font-weight="bold" class="b" text-anchor="middle">Severe</text>
<text x="105.9" y="411.9" font-size="5.5" font-weight="bold" class="b" text-anchor="middle">Control</text>
<text transform="translate(3.7 370.5) rotate(-90)" font-size="6.0" font-weight="bold" class="b" text-anchor="middle" textLength="28.3" lengthAdjust="spacingAndGlyphs">MdFI - AU</text>
<path d="M38.3 346.5V342.2H108.5V346.5" fill="none" stroke="#000" stroke-width="1.1"/>
<path d="M73.5 342.2V346" stroke="#000" stroke-width="1.7"/>
<text class="p" x="41.5" y="342" font-size="6.6" textLength="26.2" lengthAdjust="spacingAndGlyphs"><tspan font-style="italic">p</tspan> = 0.384</text>
<text class="p" x="78.5" y="342" font-size="6.6" textLength="26.5" lengthAdjust="spacingAndGlyphs"><tspan font-style="italic">p</tspan> = 0.515</text>
<path d="M28.9 365.5H51M62.2 370.3H83.9M95.2 366.9H116.7" stroke="#000" stroke-width="0.95"/>
<path d="M38.7 347.3a1.6 1.6 0 1 0 3.2 0a1.6 1.6 0 1 0 -3.2 0M32.4 354.9a1.6 1.6 0 1 0 3.2 0a1.6 1.6 0 1 0 -3.2 0M38.7 353.3a1.6 1.6 0 1 0 3.2 0a1.6 1.6 0 1 0 -3.2 0M46.3 355.8a1.6 1.6 0 1 0 3.2 0a1.6 1.6 0 1 0 -3.2 0M36.6 358.1a1.6 1.6 0 1 0 3.2 0a1.6 1.6 0 1 0 -3.2 0M42.5 358.3a1.6 1.6 0 1 0 3.2 0a1.6 1.6 0 1 0 -3.2 0M44.4 358.9a1.6 1.6 0 1 0 3.2 0a1.6 1.6 0 1 0 -3.2 0M32.4 361.5a1.6 1.6 0 1 0 3.2 0a1.6 1.6 0 1 0 -3.2 0M36.6 362.7a1.6 1.6 0 1 0 3.2 0a1.6 1.6 0 1 0 -3.2 0M40.6 361.7a1.6 1.6 0 1 0 3.2 0a1.6 1.6 0 1 0 -3.2 0M28.6 365.3a1.6 1.6 0 1 0 3.2 0a1.6 1.6 0 1 0 -3.2 0M34.3 366.3a1.6 1.6 0 1 0 3.2 0a1.6 1.6 0 1 0 -3.2 0M38.7 366.8a1.6 1.6 0 1 0 3.2 0a1.6 1.6 0 1 0 -3.2 0M42.5 365.9a1.6 1.6 0 1 0 3.2 0a1.6 1.6 0 1 0 -3.2 0M46.9 365a1.6 1.6 0 1 0 3.2 0a1.6 1.6 0 1 0 -3.2 0M30.5 369.3a1.6 1.6 0 1 0 3.2 0a1.6 1.6 0 1 0 -3.2 0M34.5 370.9a1.6 1.6 0 1 0 3.2 0a1.6 1.6 0 1 0 -3.2 0M46.3 370a1.6 1.6 0 1 0 3.2 0a1.6 1.6 0 1 0 -3.2 0M38.7 373.1a1.6 1.6 0 1 0 3.2 0a1.6 1.6 0 1 0 -3.2 0M42.5 372.2a1.6 1.6 0 1 0 3.2 0a1.6 1.6 0 1 0 -3.2 0M36.6 376.9a1.6 1.6 0 1 0 3.2 0a1.6 1.6 0 1 0 -3.2 0M40.6 380.2a1.6 1.6 0 1 0 3.2 0a1.6 1.6 0 1 0 -3.2 0M38.7 389.9a1.6 1.6 0 1 0 3.2 0a1.6 1.6 0 1 0 -3.2 0"/>
<path d="M71 350.9h3.0v3.0h-3.0zM69.5 353h3.0v3.0h-3.0zM73.5 354.9h3.0v3.0h-3.0zM71.6 366h3.0v3.0h-3.0zM65.3 368.8h3.0v3.0h-3.0zM69.5 370.3h3.0v3.0h-3.0zM73.5 371.3h3.0v3.0h-3.0zM77.6 368.8h3.0v3.0h-3.0zM69.5 386.7h3.0v3.0h-3.0zM73.5 385.8h3.0v3.0h-3.0z"/>
<path d="M105.9 355.45L107 357.6H104.8zM103.8 358.35L104.9 360.5H102.7zM108.1 359.95L109.2 362.1H107zM105.9 364.65L107 366.8H104.8zM101.9 368.05L103 370.2H100.8zM105.9 369.05L107 371.2H104.8zM110.1 368.05L111.2 370.2H109zM105.9 376.85L107 379H104.8z" stroke="#000" stroke-width="0.5" stroke-linejoin="round"/>
<text x="131" y="330" font-size="12" font-weight="bold" class="b">L</text>
<text x="161.5" y="330.2" font-size="6.9" font-weight="bold" class="b" textLength="55" lengthAdjust="spacingAndGlyphs">TRAP- EC50 MFI</text>
<path d="M151.7 338V404.2H251.1" fill="none" stroke="#000" stroke-width="1.4"/>
<path d="M149.9 338.5H151.7M149.9 351.6H151.7M149.9 364.9H151.7M149.9 377.8H151.7M149.9 390.9H151.7M149.9 404.2H151.7" stroke="#000" stroke-width="0.9"/>
<text x="149.35" y="340.45" font-size="5.4" font-weight="bold" class="b" text-anchor="end">25</text>
<text x="149.35" y="353.55" font-size="5.4" font-weight="bold" class="b" text-anchor="end">20</text>
<text x="149.35" y="366.85" font-size="5.4" font-weight="bold" class="b" text-anchor="end">15</text>
<text x="149.35" y="379.75" font-size="5.4" font-weight="bold" class="b" text-anchor="end">10</text>
<text x="149.35" y="392.85" font-size="5.4" font-weight="bold" class="b" text-anchor="end">5</text>
<text x="149.35" y="406.15" font-size="5.4" font-weight="bold" class="b" text-anchor="end">0</text>
<path d="M168.3 404.2V406M201.1 404.2V406M234 404.2V406" stroke="#000" stroke-width="0.9"/>
<text x="168.3" y="411.9" font-size="5.5" font-weight="bold" class="b" text-anchor="middle">Mild</text>
<text x="201.1" y="411.9" font-size="5.5" font-weight="bold" class="b" text-anchor="middle">Severe</text>
<text x="234" y="411.9" font-size="5.5" font-weight="bold" class="b" text-anchor="middle">Control</text>
<text transform="translate(139.65 371) rotate(-90)" font-size="6.0" font-weight="bold" class="b" text-anchor="middle" textLength="28.3" lengthAdjust="spacingAndGlyphs">TRAP-<tspan font-size="4.80" dy="1.1">μ</tspan><tspan dy="-1.1">M</tspan></text>
<path d="M166.4 346.8V342.2H234.6V346.8" fill="none" stroke="#000" stroke-width="1.1"/>
<path d="M201.1 342.2V346" stroke="#000" stroke-width="1.7"/>
<text class="p" x="170.4" y="341.9" font-size="6.6" textLength="26.4" lengthAdjust="spacingAndGlyphs"><tspan font-style="italic">p</tspan> = 0.324</text>
<text class="p" x="205" y="341.9" font-size="6.6" textLength="26.2" lengthAdjust="spacingAndGlyphs"><tspan font-style="italic">p</tspan> = 0.274</text>
<path d="M158 397H178.5M190.2 394.1H211.9M222.5 399H244" stroke="#000" stroke-width="0.95"/>
<path d="M166.4 354a1.6 1.6 0 1 0 3.2 0a1.6 1.6 0 1 0 -3.2 0M164.8 387.5a1.6 1.6 0 1 0 3.2 0a1.6 1.6 0 1 0 -3.2 0M168.4 386.5a1.6 1.6 0 1 0 3.2 0a1.6 1.6 0 1 0 -3.2 0M162.5 394.3a1.6 1.6 0 1 0 3.2 0a1.6 1.6 0 1 0 -3.2 0M166.7 394.7a1.6 1.6 0 1 0 3.2 0a1.6 1.6 0 1 0 -3.2 0M170.5 393.1a1.6 1.6 0 1 0 3.2 0a1.6 1.6 0 1 0 -3.2 0M156.6 396a1.6 1.6 0 1 0 3.2 0a1.6 1.6 0 1 0 -3.2 0M158.9 397.2a1.6 1.6 0 1 0 3.2 0a1.6 1.6 0 1 0 -3.2 0M161.4 398.3a1.6 1.6 0 1 0 3.2 0a1.6 1.6 0 1 0 -3.2 0M164 399a1.6 1.6 0 1 0 3.2 0a1.6 1.6 0 1 0 -3.2 0M166.7 399.4a1.6 1.6 0 1 0 3.2 0a1.6 1.6 0 1 0 -3.2 0M169.4 399a1.6 1.6 0 1 0 3.2 0a1.6 1.6 0 1 0 -3.2 0M172 398.3a1.6 1.6 0 1 0 3.2 0a1.6 1.6 0 1 0 -3.2 0M174.4 397.4a1.6 1.6 0 1 0 3.2 0a1.6 1.6 0 1 0 -3.2 0M176.8 396.6a1.6 1.6 0 1 0 3.2 0a1.6 1.6 0 1 0 -3.2 0"/>
<path d="M199.6 364.6h3.0v3.0h-3.0zM201.5 385.6h3.0v3.0h-3.0zM197.5 388.2h3.0v3.0h-3.0zM203.8 389.4h3.0v3.0h-3.0zM195.5 392h3.0v3.0h-3.0zM199.6 393.6h3.0v3.0h-3.0zM193.3 397h3.0v3.0h-3.0zM197.5 398.9h3.0v3.0h-3.0zM201.5 397h3.0v3.0h-3.0zM205.6 397h3.0v3.0h-3.0z"/>
<path d="M234 381.15L235.1 383.3H232.9zM232 388.35L233.1 390.5H230.9zM236 391.15L237.1 393.3H234.9zM226 397.75L227.1 399.9H224.9zM230 397.75L231.1 399.9H228.9zM234 397.75L235.1 399.9H232.9zM238 397.75L239.1 399.9H236.9zM242 397.75L243.1 399.9H240.9z" stroke="#000" stroke-width="0.5" stroke-linejoin="round"/>
<text x="265.5" y="330" font-size="12" font-weight="bold" class="b">M</text>
<text x="300.4" y="330.2" font-size="6.9" font-weight="bold" class="b" textLength="66.6" lengthAdjust="spacingAndGlyphs">TRAP - maximal MFI</text>
<path d="M289.05 338V404.2H388.3" fill="none" stroke="#000" stroke-width="1.4"/>
<path d="M287.25 338.5H289.05M287.25 351.6H289.05M287.25 364.4H289.05M287.25 377.7H289.05M287.25 391H289.05M287.25 404.2H289.05" stroke="#000" stroke-width="0.9"/>
<text x="286.7" y="340.45" font-size="5.4" font-weight="bold" class="b" text-anchor="end">5000</text>
<text x="286.7" y="353.55" font-size="5.4" font-weight="bold" class="b" text-anchor="end">4000</text>
<text x="286.7" y="366.35" font-size="5.4" font-weight="bold" class="b" text-anchor="end">3000</text>
<text x="286.7" y="379.65" font-size="5.4" font-weight="bold" class="b" text-anchor="end">2000</text>
<text x="286.7" y="392.95" font-size="5.4" font-weight="bold" class="b" text-anchor="end">1000</text>
<text x="286.7" y="406.15" font-size="5.4" font-weight="bold" class="b" text-anchor="end">0</text>
<path d="M305.7 404.2V406M338.5 404.2V406M371 404.2V406" stroke="#000" stroke-width="0.9"/>
<text x="305.7" y="411.9" font-size="5.5" font-weight="bold" class="b" text-anchor="middle">Mild</text>
<text x="338.5" y="411.9" font-size="5.5" font-weight="bold" class="b" text-anchor="middle">Severe</text>
<text x="371" y="411.9" font-size="5.5" font-weight="bold" class="b" text-anchor="middle">Control</text>
<text transform="translate(272.55 370.8) rotate(-90)" font-size="6.0" font-weight="bold" class="b" text-anchor="middle" textLength="28.8" lengthAdjust="spacingAndGlyphs">MdFI - AU</text>
<path d="M304.3 346.5V341.2H373.4V346.5" fill="none" stroke="#000" stroke-width="1.1"/>
<path d="M338.6 341.2V345" stroke="#000" stroke-width="1.7"/>
<text class="p" x="305" y="340.9" font-size="6.6" textLength="29.2" lengthAdjust="spacingAndGlyphs"><tspan font-style="italic">p</tspan> = 0.476</text>
<text class="p" x="342.7" y="340.9" font-size="6.6" textLength="26.1" lengthAdjust="spacingAndGlyphs"><tspan font-style="italic">p</tspan> = 0.146</text>
<path d="M294.6 390H316.7M327.4 393.5H349.5M360 381.6H382" stroke="#000" stroke-width="0.95"/>
<path d="M304 345.6a1.6 1.6 0 1 0 3.2 0a1.6 1.6 0 1 0 -3.2 0M304 355.6a1.6 1.6 0 1 0 3.2 0a1.6 1.6 0 1 0 -3.2 0M308.1 361.5a1.6 1.6 0 1 0 3.2 0a1.6 1.6 0 1 0 -3.2 0M300.3 364.4a1.6 1.6 0 1 0 3.2 0a1.6 1.6 0 1 0 -3.2 0M304.1 364.4a1.6 1.6 0 1 0 3.2 0a1.6 1.6 0 1 0 -3.2 0M304.1 377.9a1.6 1.6 0 1 0 3.2 0a1.6 1.6 0 1 0 -3.2 0M296.1 382.7a1.6 1.6 0 1 0 3.2 0a1.6 1.6 0 1 0 -3.2 0M299.9 382.7a1.6 1.6 0 1 0 3.2 0a1.6 1.6 0 1 0 -3.2 0M304.1 382.7a1.6 1.6 0 1 0 3.2 0a1.6 1.6 0 1 0 -3.2 0M308.1 382.7a1.6 1.6 0 1 0 3.2 0a1.6 1.6 0 1 0 -3.2 0M312.2 382.7a1.6 1.6 0 1 0 3.2 0a1.6 1.6 0 1 0 -3.2 0M300.3 390a1.6 1.6 0 1 0 3.2 0a1.6 1.6 0 1 0 -3.2 0M304.1 391.3a1.6 1.6 0 1 0 3.2 0a1.6 1.6 0 1 0 -3.2 0M307.5 390.9a1.6 1.6 0 1 0 3.2 0a1.6 1.6 0 1 0 -3.2 0M294.9 394.3a1.6 1.6 0 1 0 3.2 0a1.6 1.6 0 1 0 -3.2 0M298 395.6a1.6 1.6 0 1 0 3.2 0a1.6 1.6 0 1 0 -3.2 0M302.4 396.6a1.6 1.6 0 1 0 3.2 0a1.6 1.6 0 1 0 -3.2 0M305.6 397.6a1.6 1.6 0 1 0 3.2 0a1.6 1.6 0 1 0 -3.2 0M309.4 395.6a1.6 1.6 0 1 0 3.2 0a1.6 1.6 0 1 0 -3.2 0M312.9 395.6a1.6 1.6 0 1 0 3.2 0a1.6 1.6 0 1 0 -3.2 0M300.3 399.1a1.6 1.6 0 1 0 3.2 0a1.6 1.6 0 1 0 -3.2 0M307.9 401a1.6 1.6 0 1 0 3.2 0a1.6 1.6 0 1 0 -3.2 0M304.1 402.9a1.6 1.6 0 1 0 3.2 0a1.6 1.6 0 1 0 -3.2 0"/>
<path d="M337 367.6h3.0v3.0h-3.0zM337 374.7h3.0v3.0h-3.0zM337 379.3h3.0v3.0h-3.0zM337 386h3.0v3.0h-3.0zM341.1 390.7h3.0v3.0h-3.0zM332.8 395.1h3.0v3.0h-3.0zM337 394.5h3.0v3.0h-3.0zM341.1 397h3.0v3.0h-3.0zM337 399.5h3.0v3.0h-3.0z"/>
<path d="M371 352.75L372.1 354.9H369.9zM371 359.75L372.1 361.9H369.9zM371 371.15L372.1 373.3H369.9zM371 376.75L372.1 378.9H369.9zM371 383.75L372.1 385.9H369.9zM369 387.75L370.1 389.9H367.9zM373.4 392.35L374.5 394.5H372.3zM371 396.75L372.1 398.9H369.9z" stroke="#000" stroke-width="0.5" stroke-linejoin="round"/>
<text x="399.5" y="330" font-size="12" font-weight="bold" class="b">N</text>
<text x="431.9" y="330.2" font-size="6.9" font-weight="bold" class="b" textLength="56.5" lengthAdjust="spacingAndGlyphs">TRAP - EC50 MFI</text>
<path d="M420.9 338V404.2H520" fill="none" stroke="#000" stroke-width="1.4"/>
<path d="M419.1 338.5H420.9M419.1 349.4H420.9M419.1 360.4H420.9M419.1 371.4H420.9M419.1 382.4H420.9M419.1 393.3H420.9M419.1 404.2H420.9" stroke="#000" stroke-width="0.9"/>
<text x="418.55" y="340.45" font-size="5.4" font-weight="bold" class="b" text-anchor="end">12</text>
<text x="418.55" y="351.35" font-size="5.4" font-weight="bold" class="b" text-anchor="end">10</text>
<text x="418.55" y="362.35" font-size="5.4" font-weight="bold" class="b" text-anchor="end">8</text>
<text x="418.55" y="373.35" font-size="5.4" font-weight="bold" class="b" text-anchor="end">6</text>
<text x="418.55" y="384.35" font-size="5.4" font-weight="bold" class="b" text-anchor="end">4</text>
<text x="418.55" y="395.25" font-size="5.4" font-weight="bold" class="b" text-anchor="end">2</text>
<text x="418.55" y="406.15" font-size="5.4" font-weight="bold" class="b" text-anchor="end">0</text>
<path d="M437.2 404.2V406M470.4 404.2V406M503 404.2V406" stroke="#000" stroke-width="0.9"/>
<text x="437.2" y="411.9" font-size="5.5" font-weight="bold" class="b" text-anchor="middle">Mild</text>
<text x="470.4" y="411.9" font-size="5.5" font-weight="bold" class="b" text-anchor="middle">Severe</text>
<text x="503" y="411.9" font-size="5.5" font-weight="bold" class="b" text-anchor="middle">Control</text>
<text transform="translate(409.15 371) rotate(-90)" font-size="6.0" font-weight="bold" class="b" text-anchor="middle" textLength="28.3" lengthAdjust="spacingAndGlyphs">TRAP-<tspan font-size="4.80" dy="1.1">μ</tspan><tspan dy="-1.1">M</tspan></text>
<path d="M435.6 346.3V341.7H504.6V346.3" fill="none" stroke="#000" stroke-width="1.1"/>
<path d="M470.6 341.7V345.5" stroke="#000" stroke-width="1.7"/>
<text class="p" x="439.6" y="341.3" font-size="6.6" textLength="26.6" lengthAdjust="spacingAndGlyphs"><tspan font-style="italic">p</tspan> = 0.923</text>
<text class="p" x="475" y="341.3" font-size="6.6" textLength="26.2" lengthAdjust="spacingAndGlyphs"><tspan font-style="italic">p</tspan> = 0.360</text>
<path d="M426.2 392.2H448.3M459.4 391.2H481.1M492.2 394.3H514.2" stroke="#000" stroke-width="0.95"/>
<path d="M433.7 353.7a1.6 1.6 0 1 0 3.2 0a1.6 1.6 0 1 0 -3.2 0M437.6 357.5a1.6 1.6 0 1 0 3.2 0a1.6 1.6 0 1 0 -3.2 0M437.6 370.1a1.6 1.6 0 1 0 3.2 0a1.6 1.6 0 1 0 -3.2 0M433.7 373.5a1.6 1.6 0 1 0 3.2 0a1.6 1.6 0 1 0 -3.2 0M435.6 383.1a1.6 1.6 0 1 0 3.2 0a1.6 1.6 0 1 0 -3.2 0M429.7 388.2a1.6 1.6 0 1 0 3.2 0a1.6 1.6 0 1 0 -3.2 0M433.7 389a1.6 1.6 0 1 0 3.2 0a1.6 1.6 0 1 0 -3.2 0M437.6 388.4a1.6 1.6 0 1 0 3.2 0a1.6 1.6 0 1 0 -3.2 0M441.4 386.9a1.6 1.6 0 1 0 3.2 0a1.6 1.6 0 1 0 -3.2 0M425.9 391.2a1.6 1.6 0 1 0 3.2 0a1.6 1.6 0 1 0 -3.2 0M429 392.2a1.6 1.6 0 1 0 3.2 0a1.6 1.6 0 1 0 -3.2 0M432.8 392.8a1.6 1.6 0 1 0 3.2 0a1.6 1.6 0 1 0 -3.2 0M437.2 392.4a1.6 1.6 0 1 0 3.2 0a1.6 1.6 0 1 0 -3.2 0M441.7 392a1.6 1.6 0 1 0 3.2 0a1.6 1.6 0 1 0 -3.2 0M445.2 391.2a1.6 1.6 0 1 0 3.2 0a1.6 1.6 0 1 0 -3.2 0M427.8 395.3a1.6 1.6 0 1 0 3.2 0a1.6 1.6 0 1 0 -3.2 0M431.6 394.7a1.6 1.6 0 1 0 3.2 0a1.6 1.6 0 1 0 -3.2 0M435.4 395a1.6 1.6 0 1 0 3.2 0a1.6 1.6 0 1 0 -3.2 0M439.8 394.7a1.6 1.6 0 1 0 3.2 0a1.6 1.6 0 1 0 -3.2 0M443.5 395.3a1.6 1.6 0 1 0 3.2 0a1.6 1.6 0 1 0 -3.2 0M431.6 397.9a1.6 1.6 0 1 0 3.2 0a1.6 1.6 0 1 0 -3.2 0M435.6 399.1a1.6 1.6 0 1 0 3.2 0a1.6 1.6 0 1 0 -3.2 0M439.8 398.8a1.6 1.6 0 1 0 3.2 0a1.6 1.6 0 1 0 -3.2 0"/>
<path d="M468.9 358.9h3.0v3.0h-3.0zM468.9 368h3.0v3.0h-3.0zM464.7 386.3h3.0v3.0h-3.0zM468.9 389.2h3.0v3.0h-3.0zM472.7 388.4h3.0v3.0h-3.0zM461.7 390.4h3.0v3.0h-3.0zM474.6 391.3h3.0v3.0h-3.0zM466.8 393.5h3.0v3.0h-3.0zM470.8 393.8h3.0v3.0h-3.0zM468.9 397.6h3.0v3.0h-3.0z"/>
<path d="M503 361.75L504.1 363.9H501.9zM503 378.75L504.1 380.9H501.9zM499 393.05L500.1 395.2H497.9zM503 393.05L504.1 395.2H501.9zM507 393.05L508.1 395.2H505.9zM499 398.35L500.1 400.5H497.9zM503 398.35L504.1 400.5H501.9zM507 398.35L508.1 400.5H505.9z" stroke="#000" stroke-width="0.5" stroke-linejoin="round"/>
</svg>
</body></html>
